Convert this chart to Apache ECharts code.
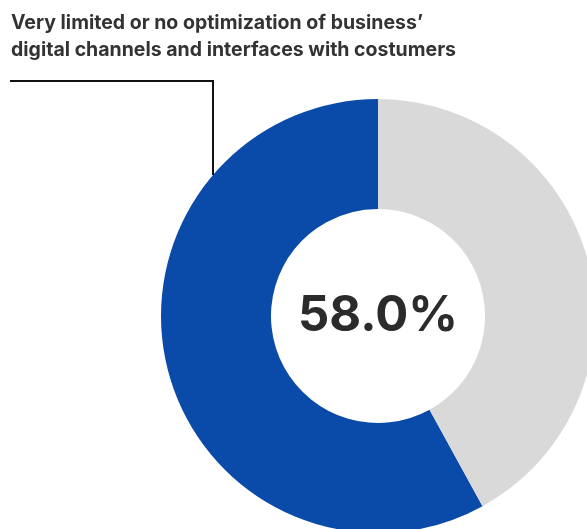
<!DOCTYPE html>
<html>
<head>
<meta charset="utf-8">
<script src="https://cdn.jsdelivr.net/npm/echarts@6/dist/echarts.min.js"></script>
<style>
  html, body { margin: 0; padding: 0; background: #ffffff; }
  #chart { width: 587px; height: 529px; }
</style>
</head>
<body>
<div id="chart"></div>
<script>
// Share of businesses with very limited or no optimization of digital channels
const categories = ['Very limited or no optimization', 'Other'];
const shares = [58.0, 42.0];
const sliceColors = ['#0a4aa8', '#d9d9d9'];
const headline = 'Very limited or no optimization of business’\ndigital channels and interfaces with costumers';

const cx = 378, cy = 316;
const innerR = 107, outerR = 217;

// Leader from the headline down to the outer rim of the highlighted slice
const leaderX = 213, leaderY = 81;
const rimY = cy - Math.sqrt(outerR * outerR - (leaderX - cx) * (leaderX - cx));

const chart = echarts.init(document.getElementById('chart'), null, { renderer: 'canvas' });
chart.setOption({
  animation: false,
  title: {
    text: headline,
    left: 11,
    top: 10,
    padding: 0,
    textStyle: {
      fontFamily: 'Inter',
      fontWeight: 700,
      fontSize: 19.5,
      lineHeight: 27,
      color: '#333333'
    }
  },
  graphic: [{
    type: 'polyline',
    z: 10,
    shape: { points: [[10, leaderY], [leaderX, leaderY], [leaderX, rimY]] },
    style: { stroke: '#111111', lineWidth: 2, fill: null }
  }],
  series: [{
    type: 'pie',
    center: [cx, cy],
    radius: [innerR, outerR],
    startAngle: 90,
    clockwise: false,
    silent: true,
    labelLine: { show: false },
    data: categories.map((name, i) => ({
      name,
      value: shares[i],
      itemStyle: { color: sliceColors[i] },
      label: i === 0 ? {
        show: true,
        position: 'center',
        formatter: p => p.value.toFixed(1) + '%',
        fontFamily: 'Inter',
        fontWeight: 700,
        fontSize: 49,
        color: '#2b2b2b'
      } : { show: false }
    }))
  }]
});
</script>
</body>
</html>
